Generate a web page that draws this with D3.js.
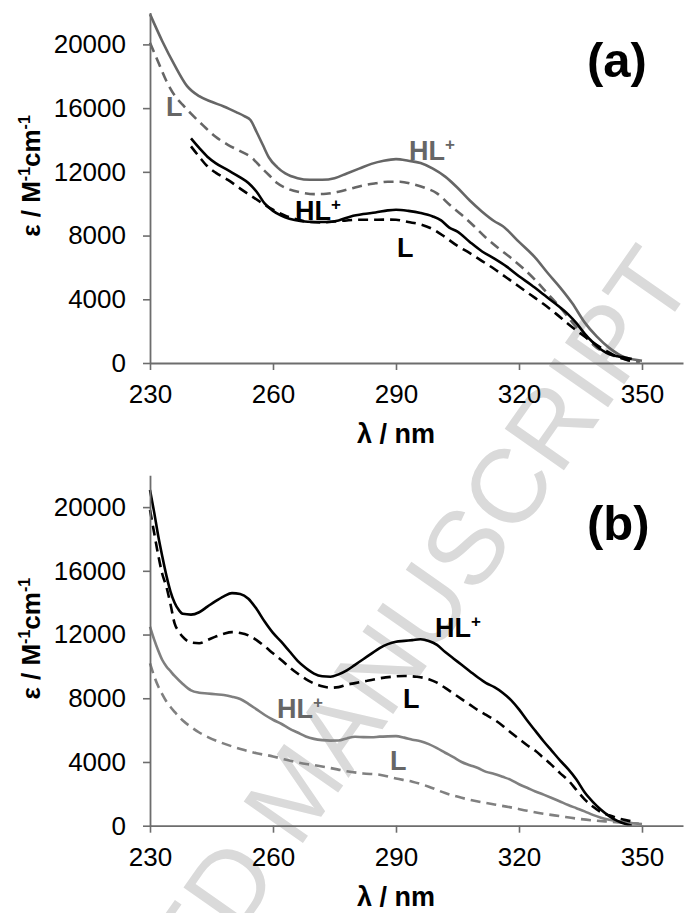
<!DOCTYPE html>
<html>
<head>
<meta charset="utf-8">
<script src="https://d3js.org/d3.v7.min.js"></script>
<style>
  body { margin: 0; background: #fff; }
  text { font-family: "Liberation Sans", Arial, sans-serif; }
</style>
</head>
<body>
<script>

var w = 686, h = 913;

// axis ticks
var xTicks = [230, 260, 290, 320, 350];
var yTicks = [0, 4000, 8000, 12000, 16000, 20000];

// panel (a): [wavelength nm, epsilon]
var aGrayHL = [[230,21900],[233,20200],[236,18700],[239,17400],[242,16750],[245,16400],[248,16100],[251,15750],[253,15500],[254.5,15250],[256,14500],[257.5,13700],[259,12900],[261,12300],[263,11900],[266,11600],[269,11500],[272,11500],[275,11600],[278,11900],[281,12200],[284,12500],[287,12700],[290,12800],[293,12700],[296,12550],[299,12200],[302,11700],[305,11000],[308,10200],[311,9500],[314,8900],[316,8600],[320,7600],[324,6600],[327,5650],[330,4750],[333,3750],[336,2550],[339,1650],[342,950],[345,450],[348,220],[350,140]];
var aGrayL = [[230,20100],[232,18900],[234,17700],[236,16800],[238,16200],[240,15650],[243,14900],[246,14200],[249,13700],[252,13300],[255,12850],[257,12300],[259,11800],[261,11300],[264,10900],[267,10700],[270,10600],[273,10620],[276,10750],[279,10950],[282,11150],[285,11280],[288,11380],[291,11380],[294,11230],[297,11000],[300,10650],[303,9950],[306,9300],[309,8600],[312,7850],[315,7200],[318,6600],[321,5950],[324,5200],[327,4350],[330,3500],[333,2550],[336,1700],[339,950],[342,560],[345,300],[348,120],[349.5,60]];
var aBlackHL = [[240,14100],[242,13500],[244,12950],[246,12550],[249,12100],[252,11650],[254,11300],[256,10750],[258,10000],[260,9550],[262,9250],[264,9050],[267,8900],[270,8850],[273,8850],[276,8950],[279,9200],[282,9350],[285,9450],[288,9580],[290,9620],[293,9550],[296,9420],[299,9200],[301,8950],[303,8500],[305,8250],[308,7600],[311,7000],[314,6550],[317,6050],[320,5450],[323,4900],[326,4300],[329,3700],[332,3050],[334,2500],[336,1850],[338,1300],[340,850],[342,560],[344,420],[346,330],[347.5,250]];
var aBlackL = [[240,13600],[242,12950],[244,12350],[246,11950],[249,11500],[252,10950],[254,10600],[257,10100],[260,9620],[263,9250],[266,9000],[269,8850],[272,8830],[275,8880],[278,8950],[281,8990],[284,8990],[287,9000],[290,8990],[293,8850],[296,8700],[299,8400],[302,7900],[305,7350],[308,6900],[311,6400],[314,5900],[317,5350],[320,4800],[323,4250],[326,3700],[329,3100],[332,2450],[335,1850],[338,1300],[341,800],[344,400],[346,220],[348,80]];

// panel (b)
var bBlackHL = [[230,21070],[231,19700],[232,18200],[233,16900],[234,15700],[235,14700],[236,14000],[237,13550],[238,13300],[240,13250],[242,13400],[244,13750],[246,14100],[248,14400],[250,14600],[252,14550],[254,14250],[256,13600],[258,12800],[260,12100],[262,11550],[264,10950],[266,10350],[268,9900],[270,9550],[272,9380],[274,9350],[276,9500],[278,9750],[280,10100],[282,10450],[284,10800],[286,11150],[288,11400],[290,11550],[292,11600],[294,11650],[296,11700],[298,11600],[300,11350],[302,10900],[304,10500],[306,10100],[308,9700],[310,9300],[312,8950],[314,8700],[316,8350],[318,7900],[320,7300],[322,6600],[324,5950],[326,5300],[328,4700],[330,4100],[332,3550],[334,2900],[336,2100],[338,1500],[340,1000],[342,600],[344,300],[346,100],[347.5,0]];
var bBlackL = [[230,19820],[231,18400],[232,17000],[233,15800],[234,15000],[235,13900],[236,12700],[237,12200],[238,11850],[240,11500],[242,11450],[244,11650],[246,11870],[248,12050],[250,12150],[252,12100],[254,11950],[256,11650],[258,11250],[260,10820],[262,10400],[264,9950],[266,9550],[268,9200],[270,8930],[272,8750],[274,8660],[276,8700],[278,8850],[280,8950],[283,9100],[286,9250],[289,9350],[292,9400],[295,9350],[298,9200],[300,8980],[302,8650],[304,8300],[306,7950],[308,7600],[310,7250],[312,6950],[314,6650],[316,6280],[318,5850],[320,5450],[322,5050],[324,4700],[326,4250],[328,3800],[330,3300],[332,2850],[334,2250],[336,1650],[338,1200],[340,850],[342,650],[344,480],[346,350],[348,250]];
var bGrayHL = [[230,12490],[231,11700],[232,11000],[233,10400],[234,10000],[235,9700],[236,9400],[238,8900],[240,8500],[242,8350],[244,8300],[246,8250],[248,8200],[250,8100],[252,7950],[254,7650],[256,7300],[258,6950],[260,6650],[262,6400],[264,6100],[266,5850],[268,5600],[270,5450],[272,5370],[274,5340],[276,5350],[278,5480],[280,5580],[282,5560],[284,5550],[286,5590],[288,5610],[290,5620],[292,5530],[294,5400],[296,5300],[298,5120],[300,4870],[302,4580],[304,4300],[306,4000],[308,3800],[310,3620],[312,3380],[314,3250],[316,3070],[318,2880],[320,2600],[322,2380],[324,2150],[326,1950],[328,1740],[330,1520],[332,1300],[334,1100],[336,900],[338,680],[340,500],[342,370],[344,270],[346,200],[348,150],[350,100]];
var bGrayL = [[230,10190],[231,9400],[232,8750],[233,8250],[234,7800],[235,7450],[236,7150],[238,6600],[240,6200],[242,5850],[244,5580],[247,5250],[250,4980],[253,4750],[256,4550],[260,4350],[263,4150],[266,3970],[270,3800],[274,3620],[278,3420],[282,3280],[286,3200],[290,2960],[294,2760],[298,2450],[302,2050],[306,1750],[310,1520],[314,1330],[318,1150],[322,940],[326,750],[330,600],[334,450],[338,330],[342,250],[346,180],[350,130]];

var svg = d3.select("body").append("svg").attr("width", w).attr("height", h);

// watermark behind everything
var wm = svg.append("g").attr("transform", "translate(298,850) rotate(-55)")
  .attr("fill", "#dadada").attr("font-size", "105px");
wm.append("text").attr("text-anchor", "end").attr("x", -29).text("ACCEPTED");
wm.append("text").attr("text-anchor", "start").attr("x", 0).text("MANUSCRIPT");

var x = d3.scaleLinear().domain([230, 360]).range([150, 683]);

function panel(y0, tag, series, labels){
  var y = d3.scaleLinear().domain([0, 22000]).range([y0, y0 - 22000 * 0.01593]);
  var g = svg.append("g");

  var line = d3.line()
    .x(function(d){ return x(d[0]); })
    .y(function(d){ return y(d[1]); })
    .curve(d3.curveMonotoneX);

  series.forEach(function(s){
    g.append("path").datum(s.data)
      .attr("d", line)
      .attr("fill", "none")
      .attr("stroke", s.color)
      .attr("stroke-width", 2.6)
      .attr("stroke-dasharray", s.dash ? "10,6" : null);
  });

  var xa = g.append("g").attr("transform", "translate(0," + y0 + ")")
    .call(d3.axisBottom(x).tickValues(xTicks).tickSize(7).tickSizeOuter(0).tickPadding(15));
  var ya = g.append("g").attr("transform", "translate(150,0)")
    .call(d3.axisLeft(y).tickValues(yTicks).tickSize(7).tickSizeOuter(0).tickPadding(17).tickFormat(d3.format("d")));
  [xa, ya].forEach(function(a){
    a.select(".domain").attr("stroke", "#6d6d6d").attr("stroke-width", 1.8);
    a.selectAll(".tick line").attr("stroke", "#6d6d6d").attr("stroke-width", 1.6);
    a.selectAll(".tick text").attr("fill", "#000").attr("font-size", "26px")
      .attr("font-family", "'Liberation Sans', Arial, sans-serif");
  });

  // axis titles
  g.append("text").attr("x", 396).attr("y", y0 + 80).attr("text-anchor", "middle")
    .attr("font-size", "27px").attr("font-weight", "bold").text("\u03bb / nm");

  var yt = g.append("text").attr("transform", "translate(40," + (y0 - 187) + ") rotate(-90)")
    .attr("text-anchor", "middle").attr("font-size", "26px").attr("font-weight", "bold");
  yt.append("tspan").text("\u03b5 / M");
  yt.append("tspan").attr("font-size", "16px").attr("dy", "-10").text("-1");
  yt.append("tspan").attr("dy", "10").text("cm");
  yt.append("tspan").attr("font-size", "16px").attr("dy", "-10").text("-1");

  // panel tag
  g.append("text").attr("x", 587).attr("y", y0 - 286).attr("font-size", "49px")
    .attr("font-weight", "bold").text(tag);

  labels.forEach(function(l){
    var t = g.append("text").attr("x", l.x).attr("y", l.y).attr("fill", l.color)
      .attr("font-size", "27px").attr("font-weight", "bold");
    if(l.plus){
      t.append("tspan").text("HL");
      t.append("tspan").attr("font-size", "17px").attr("dy", "-10").text("+");
    } else {
      t.text("L");
    }
  });
}

panel(363, "(a)", [
  {data: aGrayHL, color: "#666666", dash: false},
  {data: aGrayL, color: "#666666", dash: true},
  {data: aBlackHL, color: "#000000", dash: false},
  {data: aBlackL, color: "#000000", dash: true}
], [
  {x: 166, y: 116, color: "#666666", plus: false},
  {x: 409, y: 160, color: "#666666", plus: true},
  {x: 295, y: 220, color: "#000000", plus: true},
  {x: 397, y: 257, color: "#000000", plus: false}
]);

panel(825.7, "(b)", [
  {data: bGrayHL, color: "#7f7f7f", dash: false},
  {data: bGrayL, color: "#808080", dash: true},
  {data: bBlackHL, color: "#000000", dash: false},
  {data: bBlackL, color: "#000000", dash: true}
], [
  {x: 435, y: 637, color: "#000000", plus: true},
  {x: 403, y: 708, color: "#000000", plus: false},
  {x: 277, y: 718, color: "#666666", plus: true},
  {x: 390, y: 770, color: "#666666", plus: false}
]);

</script>
</body>
</html>
